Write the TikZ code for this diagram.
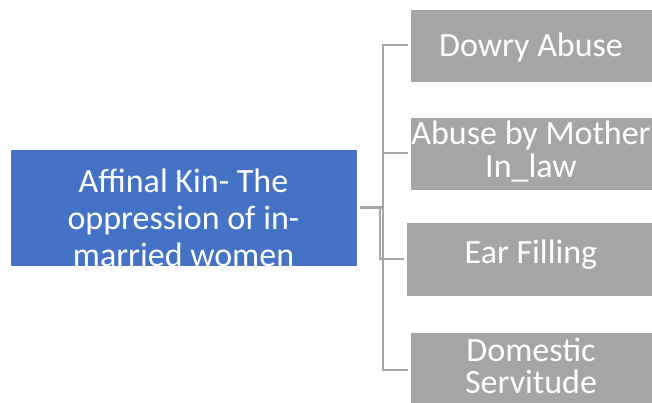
\documentclass[tikz,border=0pt]{standalone}
\usepackage{fontspec}
\setmainfont{Carlito}
\usepackage{tikz}
\definecolor{kinblue}{HTML}{4472C4}
\definecolor{kingray}{HTML}{A5A5A5}
\tikzset{
  box/.style    = {shape=rectangle, draw=white, line width=0.6pt,
                   align=center, text=white, inner xsep=0pt, inner ysep=0pt,
                   font=\fontsize{34}{32}\selectfont},
  root/.style   = {box, fill=kinblue, minimum width=347pt, minimum height=117pt,
                   font=\fontsize{34}{37}\selectfont},
  leaf/.style   = {box, fill=kingray, minimum width=242pt, minimum height=73pt}
}
\begin{document}
\begin{tikzpicture}
 [x=1pt, y=1pt, grow'=right,
  level distance=347.5pt, sibling distance=108pt,
  edge from parent/.style={draw=kingray, line width=2pt,
                           shorten <=3pt, shorten >=2pt},
  edge from parent path={(\tikzparentnode.east) -- ++(26pt,0)
                         |- (\tikzchildnode.west)}]
  \useasboundingbox (0,0) rectangle (652,-403);

  \node [root, text height=117pt, text depth=0pt] (kin) at (183.5,-207.5)
        {Affinal Kin- The\\oppression of in-\\married women}
    child { node [leaf, text height=48pt, text depth=25pt] (dowry) {Dowry Abuse} }
    child { node [leaf, font=\fontsize{34}{33}\selectfont,
                  text height=61pt, text depth=12pt] (mother)
            {Abuse by Mother\\In\_law} }
    child [edge from parent path={(\tikzparentnode.east) -- ++(23pt,0)
                                  |- (\tikzchildnode.west)}]
          { node [leaf, yshift=2.5pt, minimum width=250pt,
                  text height=41pt, text depth=33pt] (ear) {Ear Filling} }
    child { node [leaf, minimum height=74pt,
                  text height=61pt, text depth=13pt] (servitude) {Domestic\\Servitude} };
\end{tikzpicture}
\end{document}
